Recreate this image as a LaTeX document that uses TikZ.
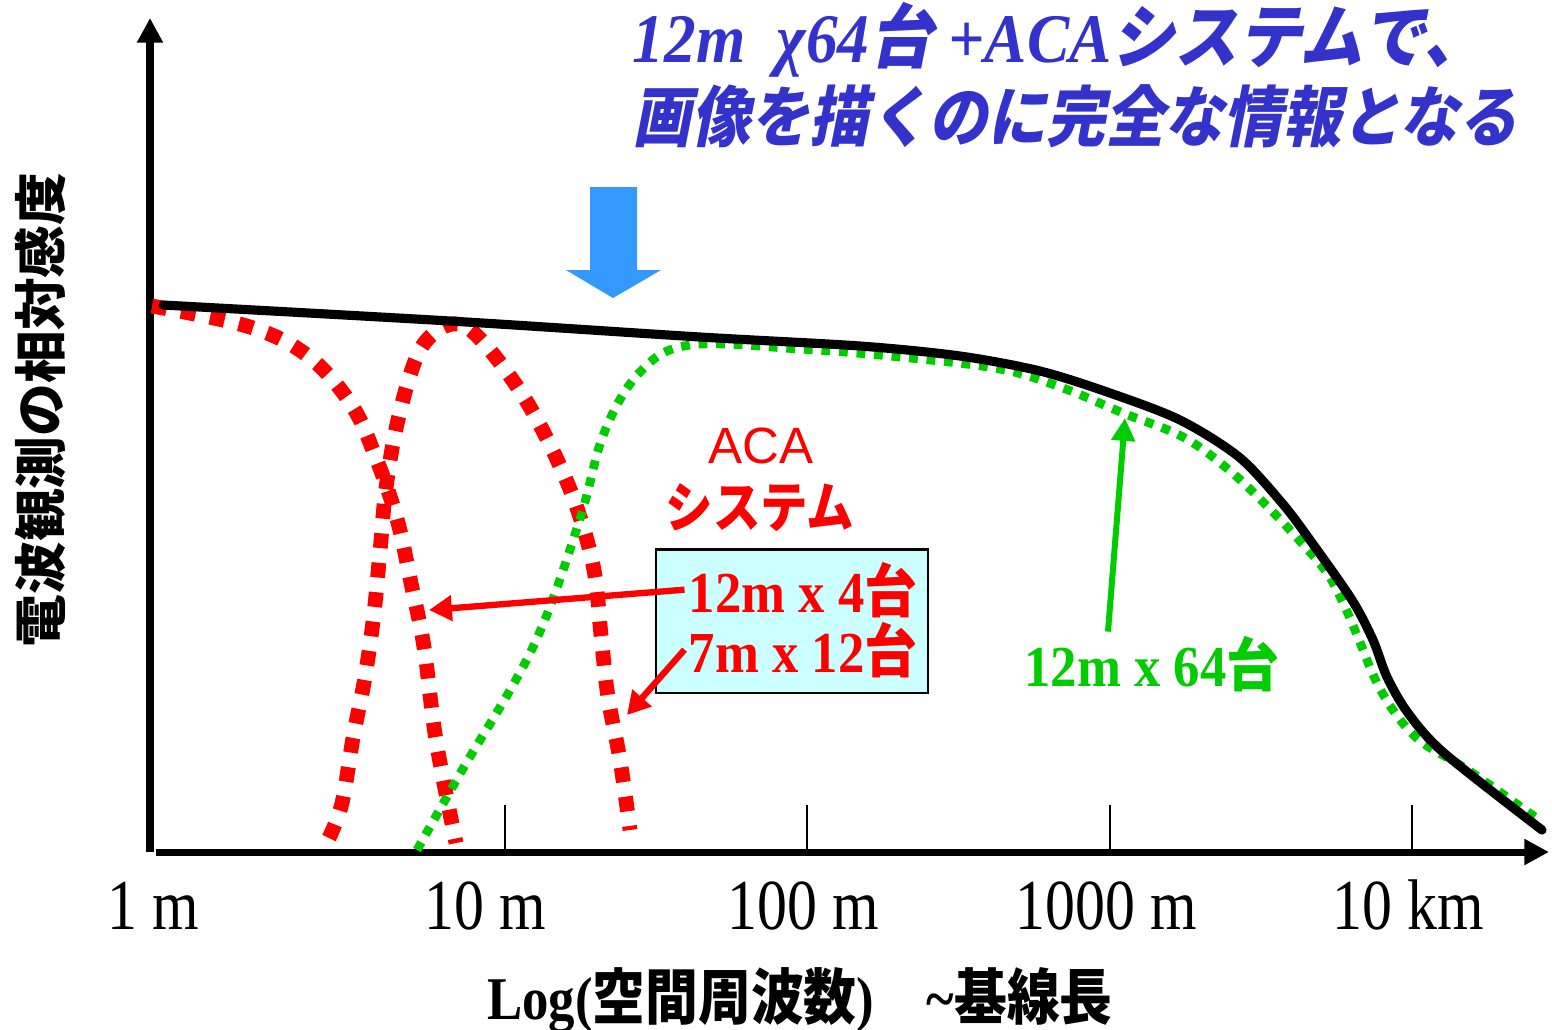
\documentclass[tikz,border=0pt]{standalone}
\usepackage{fontspec}
\usepackage{graphicx}
\setmainfont{Liberation Serif}
\newfontfamily\sansf{Liberation Sans}
\newfontfamily\jp{Noto Sans CJK JP}
\newfontfamily\jpsl{Noto Sans CJK JP}[FakeSlant=0.22]
\usetikzlibrary{arrows.meta}
\definecolor{navy}{HTML}{3333CC}
\definecolor{sky}{HTML}{3399FF}
\definecolor{alarm}{HTML}{FF0000}
\definecolor{leaf}{HTML}{00CC00}
\definecolor{pale}{HTML}{CCFFFF}
\newcommand{\setfs}[1]{\fontsize{#1}{#1}\selectfont}
\newcommand{\vst}[2]{\scalebox{1}[#1]{#2}}
\tikzset{
  axis/.style={draw=black, line width=2pt, -{Triangle[length=7pt,width=7pt]}},
  tick/.style={draw=black, line width=0.5pt},
  total/.style={draw=black, line width=2.6pt, line cap=round, line join=round},
  acacurve/.style={draw=alarm, line width=4.2pt, dash pattern=on 4.2pt off 4.2pt},
  maincurve/.style={draw=leaf, line width=2.5pt, dash pattern=on 2.5pt off 2.5pt},
  redarr/.style={draw=alarm, line width=1.8pt, -{Triangle[length=6.5pt,width=7pt]}},
  grnarr/.style={draw=leaf, line width=1.7pt, -{Triangle[length=6.5pt,width=6.5pt]}},
  ticklab/.style={font=\setfs{17pt}, inner sep=0pt, anchor=base},
  title/.style={text=navy, font=\bfseries\itshape\setfs{18pt}, inner sep=0pt, anchor=base west},
  countbox/.style={draw=black, line width=0.6pt, fill=pale, minimum width=2.72cm, minimum height=1.43cm},
  redlab/.style={text=alarm, font=\bfseries\setfs{15pt}, inner sep=1pt, anchor=base},
  grnlab/.style={text=leaf, font=\bfseries\setfs{15pt}, inner sep=1pt, anchor=base},
}

\begin{document}
\begin{tikzpicture}[x=0.01cm, y=-0.01cm]
  \useasboundingbox (0,0) rectangle (1552,1029);
  % axes
  \coordinate (O) at (150,852);
  \coordinate (ytop) at (150,18);
  \coordinate (xo) at (156,852);
  \coordinate (xend) at (1549,852);
  \draw[axis] (O) -- (ytop);
  \draw[axis] (xo) -- (xend);
  \foreach \x in {505,807,1110,1412}
    \draw[tick] (\x,805) -- (\x,852);
  \foreach \x/\lab in {153/1 m, 485/10 m, 803/100 m, 1106/1000 m, 1408/10 km}
    \node[ticklab] (t\x) at (\x,929) {\vst{1.2}{\lab}};
  \node[rotate=90, font=\jp\bfseries\setfs{15pt}] (ylab) at (40,410) {電波観測の相対感度};
  \node[font=\bfseries\setfs{15pt}] (xlab) at (800,1000)
    {\vst{1.15}{Log({\jp 空間周波数})\quad\textasciitilde{\jp 基線長}}};
  % ACA curves
  \draw[acacurve] plot[smooth, tension=0.6] coordinates {(152,306) (250,327) (308,356) (351,404)
    (376,458) (397,519) (411,583) (424,647) (436,740) (456,843)};
  \draw[acacurve] plot[smooth, tension=0.6] coordinates {(329,838) (342,803) (353,738) (365,677)
    (374,613) (380,551) (386,488) (397,424) (415,361) (433,334) (458,324) (483,342) (522,394)
    (553,451) (577,508) (594,570) (601,635) (608,697) (620,760) (630,830)};
  % 12m x 64
  \draw[maincurve] plot[smooth, tension=0.6] coordinates {(417,850) (461,772) (533,647) (579,522)
    (604,433) (640,372) (690,345) (800,349) (900,357) (1000,369) (1063,388) (1123,413) (1183,437)
    (1229,470) (1268,507) (1299,540) (1327,573) (1345,607) (1359,640) (1377,683) (1398,717)
    (1423,743) (1468,770) (1535,817)};
  % total
  \draw[total] plot[smooth, tension=0.5] coordinates {(163,305) (450,321) (700,337) (860,346)
    (960,356) (1040,371) (1110,393) (1180,420) (1239,457) (1282,503) (1310,540) (1352,600)
    (1373,640) (1387,677) (1408,713) (1444,753) (1542,830)};
  % blue arrow
  \fill[sky] (590,187) -- (637,187) -- (637,270) -- (661,270) -- (613,298) -- (566,270)
    -- (590,270) -- cycle;
  \node[title] (head1) at (632,62)
    {\vst{1.1}{12m\ \ χ64{\jpsl\upshape 台}\ +ACA{\jpsl\upshape システムで、}}};
  \node[title, font=\bfseries\setfs{16.8pt}] (head2) at (632,141)
    {\vst{1.12}{\jpsl\upshape 画像を描くのに完全な情報となる}};
  \node[text=alarm, font=\sansf\setfs{14.5pt}, anchor=base] (aca) at (761,463) {ACA};
  \node[text=alarm, font=\jp\bfseries\setfs{13.5pt}] (sys) at (760,508) {\vst{1.15}{システム}};
  \node[countbox] (counts) at (792,621) {};
  \node[redlab] (n4) at (803,612) {\vst{1.1}{12m x 4{\jp 台}}};
  \node[redlab] (n12) at (803,672) {\vst{1.1}{7m x 12{\jp 台}}};
  \coordinate (hit4) at (429,610);
  \coordinate (hit12) at (627,715);
  \draw[redarr] (n4.west) -- (hit4);
  \draw[redarr] (n12.west) -- (hit12);
  \node[grnlab] (n64) at (1152,686) {\vst{1.1}{12m x 64{\jp 台}}};
  \coordinate (hit64) at (1125,418);
  \draw[grnarr] ([xshift=-0.44cm]n64.north) -- (hit64);
\end{tikzpicture}
\end{document}
